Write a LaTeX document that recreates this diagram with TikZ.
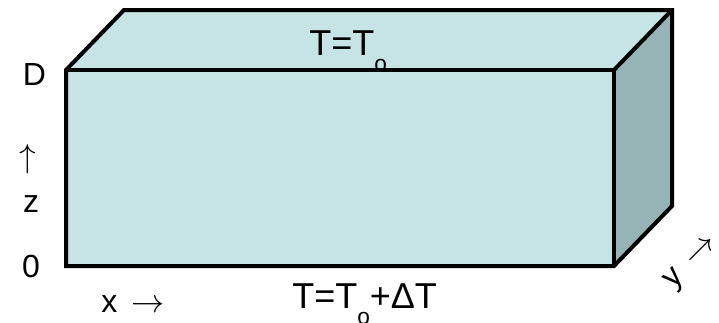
\documentclass[tikz,border=0pt]{standalone}
\usepackage{fontspec}
\setmainfont{Liberation Sans}
\usetikzlibrary{positioning}

\definecolor{boxfront}{HTML}{C6E4E6}
\definecolor{boxside}{HTML}{96B4B6}
\newcommand{\lowidx}[1]{\raisebox{-12.5pt}{\fontsize{17}{17}\selectfont #1}}

\begin{document}
\begin{tikzpicture}[x=0.75pt, y=-0.75pt,
  edge/.style={draw=black, line width=3pt, line join=miter},
  lbl/.style={font=\fontsize{24}{28}\selectfont, inner sep=0pt},
  bval/.style={font=\fontsize{27}{30}\selectfont, inner sep=0pt, anchor=base west},
]
\useasboundingbox (0,0) rectangle (719,322);

%% corners of the slab
\coordinate (fnw) at (66,70);
\coordinate (fne) at (614,70);
\coordinate (fse) at (614,266);
\coordinate (fsw) at (66,266);
\coordinate (bnw) at (124,10);
\coordinate (bne) at (672,10);
\coordinate (bse) at (672,206);

%% faces
\fill[boxfront] (fnw) -- (bnw) -- (bne) -- (fne) -- cycle;
\fill[boxside] (fne) -- (bne) -- (bse) -- (fse) -- cycle;
\fill[boxfront] (fnw) rectangle (fse);

%% edges
\draw[edge] (fnw) -- (bnw) -- (bne) -- (bse) -- (fse) -- (fsw) -- cycle;
\draw[edge] (fnw) -- (fne) -- (fse);
\draw[edge] (fne) -- (bne);

%% boundary values
\node[bval] (ttop) at (309,55) {T=T\lowidx{o}};
\node[bval] (tbot) at (292,308) {T=T\lowidx{o}+ΔT};

%% axes
\node[lbl, anchor=base] (dlab) at (34.5,85) {D};
\node[lbl] (zarr) at (28,159) {$\uparrow$};
\node[lbl, anchor=base] (zlab) at (31,212) {z};
\node[lbl, anchor=base] (olab) at (31,277) {0};
\node[lbl, anchor=base west] (xlab) at (101,312) {x\, $\rightarrow$};
\node[lbl, rotate=45] (ylab) at (692,263) {y\, $\rightarrow$};

\end{tikzpicture}
\end{document}
